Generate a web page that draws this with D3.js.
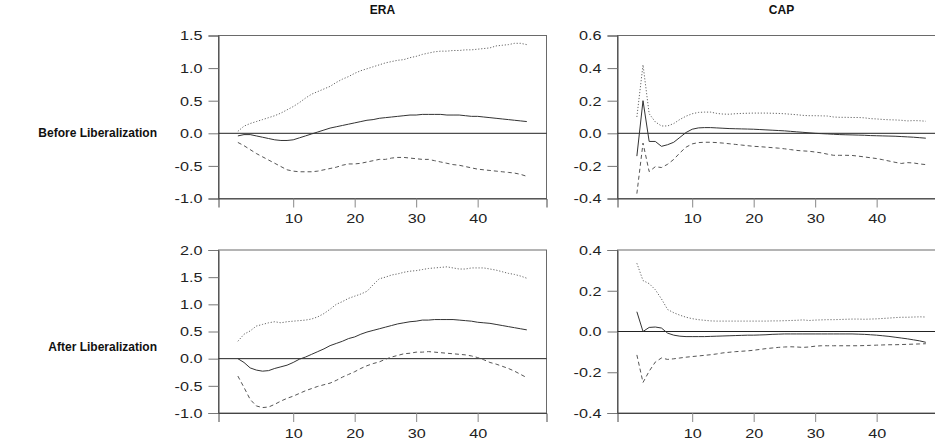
<!DOCTYPE html>
<html>
<head>
<meta charset="utf-8">
<script src="https://cdn.jsdelivr.net/npm/d3@7"></script>
<style>
  html, body { margin: 0; padding: 0; background: #fff; }
  svg { display: block; font-family: "Liberation Sans", Arial, Helvetica, sans-serif; }
  .tick text { fill: #222; font-size: 13.5px; transform-box: fill-box; }
  .y-axis .tick text { transform-origin: 100% 50%; transform: scaleX(1.2); }
  .x-axis .tick text { transform-origin: 50% 50%; transform: scaleX(1.2); }
  .title { font-weight: bold; font-size: 12px; fill: #111; }
  .row-label { font-weight: bold; font-size: 12px; fill: #111; }
</style>
</head>
<body>
<svg id="chart" width="935" height="443"></svg>
<script>
// Impulse responses over 48 periods with upper / lower bands
const periods = d3.range(1, 49);

const colTitles = ["ERA", "CAP"];
const rowLabels = ["Before Liberalization", "After Liberalization"];
const xTicks = [10, 20, 30, 40];

const eraBeforeTicks = [-1.0, -0.5, 0.0, 0.5, 1.0, 1.5];
const capBeforeTicks = [-0.4, -0.2, 0.0, 0.2, 0.4, 0.6];
const eraAfterTicks = [-1.0, -0.5, 0.0, 0.5, 1.0, 1.5, 2.0];
const capAfterTicks = [-0.4, -0.2, 0.0, 0.2, 0.4];

// ERA, before liberalization
const eraBeforeResp = [-0.04, -0.02, -0.02, -0.04, -0.06, -0.08, -0.10, -0.11, -0.11, -0.10,
  -0.07, -0.04, -0.01, 0.02, 0.05, 0.08, 0.10, 0.12, 0.14, 0.16,
  0.18, 0.20, 0.21, 0.23, 0.24, 0.25, 0.26, 0.27, 0.28, 0.28,
  0.29, 0.29, 0.29, 0.29, 0.28, 0.28, 0.28, 0.27, 0.26, 0.26,
  0.25, 0.24, 0.23, 0.22, 0.21, 0.20, 0.19, 0.18];
const eraBeforeUpper = [0.03, 0.11, 0.15, 0.18, 0.21, 0.24, 0.27, 0.31, 0.36, 0.41,
  0.47, 0.54, 0.60, 0.64, 0.68, 0.72, 0.78, 0.83, 0.87, 0.92,
  0.96, 0.99, 1.02, 1.05, 1.08, 1.10, 1.12, 1.13, 1.16, 1.18,
  1.21, 1.23, 1.25, 1.26, 1.26, 1.27, 1.27, 1.28, 1.28, 1.29,
  1.30, 1.31, 1.34, 1.35, 1.36, 1.38, 1.38, 1.36];
const eraBeforeLower = [-0.14, -0.19, -0.25, -0.31, -0.36, -0.41, -0.46, -0.51, -0.56, -0.58,
  -0.59, -0.59, -0.59, -0.58, -0.56, -0.54, -0.52, -0.49, -0.47, -0.47,
  -0.46, -0.44, -0.42, -0.40, -0.40, -0.38, -0.37, -0.37, -0.38, -0.39,
  -0.40, -0.40, -0.42, -0.44, -0.46, -0.48, -0.49, -0.51, -0.53, -0.55,
  -0.56, -0.57, -0.58, -0.59, -0.60, -0.61, -0.63, -0.66];

// CAP, before liberalization
const capBeforeResp = [-0.14, 0.20, -0.05, -0.05, -0.08, -0.07, -0.055, -0.025, 0.005, 0.025,
  0.033, 0.035, 0.035, 0.033, 0.031, 0.029, 0.028, 0.027, 0.026, 0.025,
  0.023, 0.021, 0.019, 0.017, 0.015, 0.012, 0.009, 0.006, 0.003, 0.000,
  -0.002, -0.004, -0.006, -0.008, -0.009, -0.010, -0.011, -0.012, -0.014, -0.015,
  -0.016, -0.017, -0.018, -0.020, -0.022, -0.024, -0.027, -0.030];
const capBeforeUpper = [0.10, 0.42, 0.12, 0.07, 0.045, 0.045, 0.06, 0.085, 0.105, 0.12,
  0.128, 0.13, 0.13, 0.122, 0.118, 0.117, 0.12, 0.122, 0.123, 0.124,
  0.124, 0.124, 0.123, 0.122, 0.12, 0.117, 0.114, 0.11, 0.108, 0.108,
  0.107, 0.106, 0.10, 0.098, 0.098, 0.097, 0.097, 0.095, 0.09, 0.088,
  0.085, 0.083, 0.082, 0.08, 0.076, 0.078, 0.077, 0.074];
const capBeforeLower = [-0.37, -0.06, -0.235, -0.205, -0.21, -0.19, -0.16, -0.12, -0.085, -0.065,
  -0.057, -0.055, -0.055, -0.057, -0.06, -0.064, -0.068, -0.072, -0.076, -0.08,
  -0.082, -0.085, -0.088, -0.091, -0.095, -0.10, -0.105, -0.108, -0.11, -0.115,
  -0.12, -0.128, -0.135, -0.135, -0.135, -0.136, -0.14, -0.145, -0.15, -0.155,
  -0.162, -0.17, -0.178, -0.185, -0.18, -0.182, -0.188, -0.192];

// ERA, after liberalization
const eraAfterResp = [0.00, -0.07, -0.17, -0.21, -0.23, -0.22, -0.18, -0.15, -0.12, -0.07,
  -0.01, 0.03, 0.08, 0.13, 0.18, 0.24, 0.28, 0.32, 0.37, 0.40,
  0.45, 0.49, 0.52, 0.55, 0.58, 0.61, 0.64, 0.66, 0.68, 0.69,
  0.71, 0.71, 0.72, 0.72, 0.72, 0.72, 0.71, 0.70, 0.69, 0.67,
  0.66, 0.65, 0.63, 0.61, 0.59, 0.57, 0.55, 0.53];
const eraAfterUpper = [0.32, 0.45, 0.51, 0.60, 0.63, 0.66, 0.68, 0.66, 0.68, 0.69,
  0.70, 0.71, 0.73, 0.77, 0.83, 0.91, 1.00, 1.05, 1.11, 1.15,
  1.19, 1.24, 1.36, 1.47, 1.50, 1.54, 1.56, 1.59, 1.61, 1.62,
  1.64, 1.66, 1.67, 1.68, 1.69, 1.67, 1.65, 1.65, 1.67, 1.67,
  1.67, 1.65, 1.63, 1.60, 1.57, 1.55, 1.52, 1.48];
const eraAfterLower = [-0.32, -0.53, -0.75, -0.87, -0.90, -0.89, -0.84, -0.78, -0.73, -0.69,
  -0.64, -0.59, -0.55, -0.51, -0.48, -0.45, -0.40, -0.34, -0.29, -0.24,
  -0.18, -0.13, -0.09, -0.06, -0.01, 0.03, 0.06, 0.09, 0.10, 0.12,
  0.12, 0.13, 0.12, 0.11, 0.10, 0.09, 0.08, 0.07, 0.05, 0.02,
  -0.02, -0.07, -0.10, -0.14, -0.18, -0.23, -0.29, -0.35];

// CAP, after liberalization
const capAfterResp = [0.097, 0.0, 0.02, 0.022, 0.017, -0.008, -0.018, -0.023, -0.025, -0.025,
  -0.025, -0.025, -0.024, -0.023, -0.022, -0.021, -0.020, -0.019, -0.018, -0.018,
  -0.017, -0.016, -0.014, -0.013, -0.012, -0.012, -0.012, -0.012, -0.012, -0.012,
  -0.012, -0.012, -0.012, -0.012, -0.012, -0.012, -0.013, -0.014, -0.016, -0.018,
  -0.021, -0.024, -0.028, -0.032, -0.036, -0.041, -0.046, -0.053];
const capAfterUpper = [0.335, 0.25, 0.235, 0.205, 0.16, 0.108, 0.092, 0.08, 0.07, 0.063,
  0.058, 0.055, 0.052, 0.051, 0.051, 0.051, 0.051, 0.051, 0.051, 0.051,
  0.051, 0.051, 0.052, 0.052, 0.053, 0.054, 0.055, 0.057, 0.054, 0.056,
  0.057, 0.058, 0.058, 0.059, 0.06, 0.061, 0.061, 0.06, 0.061, 0.062,
  0.064, 0.066, 0.068, 0.07, 0.07, 0.071, 0.072, 0.071];
const capAfterLower = [-0.115, -0.25, -0.195, -0.15, -0.13, -0.137, -0.134, -0.13, -0.126, -0.123,
  -0.12, -0.117, -0.114, -0.11, -0.105, -0.102, -0.099, -0.097, -0.095, -0.092,
  -0.088, -0.084, -0.081, -0.078, -0.076, -0.075, -0.076, -0.078, -0.076, -0.072,
  -0.07, -0.07, -0.07, -0.07, -0.07, -0.07, -0.07, -0.069, -0.068, -0.067,
  -0.066, -0.065, -0.065, -0.064, -0.063, -0.062, -0.061, -0.06];

const panels = [
  { row: 0, col: 0, domain: [-1.0, 1.5], ticks: eraBeforeTicks, resp: eraBeforeResp, upper: eraBeforeUpper, lower: eraBeforeLower },
  { row: 0, col: 1, domain: [-0.4, 0.6], ticks: capBeforeTicks, resp: capBeforeResp, upper: capBeforeUpper, lower: capBeforeLower },
  { row: 1, col: 0, domain: [-1.0, 2.0], ticks: eraAfterTicks, resp: eraAfterResp, upper: eraAfterUpper, lower: eraAfterLower },
  { row: 1, col: 1, domain: [-0.4, 0.4], ticks: capAfterTicks, resp: capAfterResp, upper: capAfterUpper, lower: capAfterLower }
];

// Layout of the 2 x 2 grid
const colLeft = [218.5, 617.5];
const rowTop = [35.5, 250];
const panelW = 328;
const panelH = 163;

const svg = d3.select("#chart");

// Column titles
colTitles.forEach((t, c) => {
  svg.append("text")
    .attr("class", "title")
    .attr("x", colLeft[c] + panelW / 2)
    .attr("y", 14)
    .attr("text-anchor", "middle")
    .text(t);
});

// Row labels
rowLabels.forEach((t, r) => {
  svg.append("text")
    .attr("class", "row-label")
    .attr("x", 157)
    .attr("y", rowTop[r] + 97)
    .attr("dy", "0.35em")
    .attr("text-anchor", "end")
    .text(t);
});

panels.forEach(p => {
  const g = svg.append("g")
    .attr("transform", `translate(${colLeft[p.col]},${rowTop[p.row]})`);

  const x = d3.scaleLinear().domain([-2.15, 51.2]).range([0, panelW]);
  const y = d3.scaleLinear().domain(p.domain).range([panelH, 0]);

  // frame (top and right edges)
  g.append("rect")
    .attr("x", 0).attr("y", 0)
    .attr("width", panelW).attr("height", panelH)
    .attr("fill", "none")
    .attr("stroke", "#6a6a6a")
    .attr("stroke-width", 1);

  const yAxis = d3.axisLeft(y)
    .tickValues(p.ticks)
    .tickFormat(d3.format(".1f"))
    .tickSize(10)
    .tickPadding(6);
  const gy = g.append("g").attr("class", "y-axis").call(yAxis);
  gy.select(".domain").attr("stroke", "#444");
  gy.selectAll(".tick line").attr("stroke", "#777");
  gy.selectAll(".tick text").text(d => d3.format(".1f")(d).replace("−", "-"));

  const xAxis = d3.axisBottom(x)
    .tickValues(xTicks)
    .tickSize(9)
    .tickPadding(6);
  const gx = g.append("g").attr("class", "x-axis")
    .attr("transform", `translate(0,${panelH})`)
    .call(xAxis);
  gx.select(".domain").attr("stroke", "#444");
  gx.selectAll(".tick line").attr("stroke", "#888");

  // zero reference line
  g.append("line")
    .attr("x1", 0).attr("x2", panelW)
    .attr("y1", y(0)).attr("y2", y(0))
    .attr("stroke", "#222")
    .attr("stroke-width", 1);

  const line = d3.line()
    .x((d, i) => x(periods[i]))
    .y(d => y(d));

  g.append("path")
    .datum(p.upper)
    .attr("d", line)
    .attr("fill", "none")
    .attr("stroke", "#666")
    .attr("stroke-width", 1)
    .attr("stroke-dasharray", "1.2,1.8");

  g.append("path")
    .datum(p.lower)
    .attr("d", line)
    .attr("fill", "none")
    .attr("stroke", "#555")
    .attr("stroke-width", 1)
    .attr("stroke-dasharray", "4,3");

  g.append("path")
    .datum(p.resp)
    .attr("d", line)
    .attr("fill", "none")
    .attr("stroke", "#333")
    .attr("stroke-width", 1);
});
</script>
</body>
</html>
